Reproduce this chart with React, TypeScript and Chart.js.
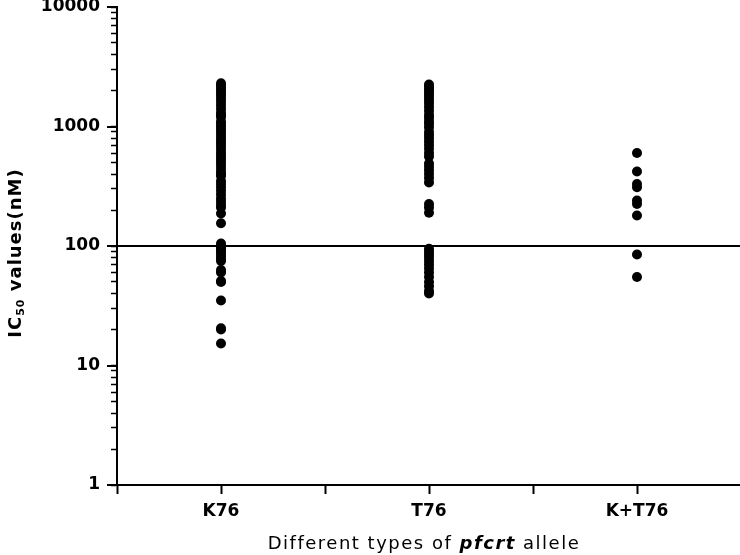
import React, { useEffect, useRef } from "react";
import { Chart, registerables } from "chart.js";

Chart.register(...registerables);

const categories = ["K76", "T76", "K+T76"];
const yTickLabels = ["1", "10", "100", "1000", "10000"];
const referenceLevel = 100;

const k76Values = [
  2300, 2200, 2100, 2000, 1900, 1800, 1700, 1600, 1500, 1400, 1300, 1250, 1200,
  1100, 1050, 1000, 950, 900, 850, 800, 760, 720, 680, 640, 600, 570, 540, 510,
  480, 450, 420, 400, 385, 350, 330, 310, 290, 270, 250, 235, 220, 210, 187, 155,
  105, 100, 97, 93, 90, 86, 82, 78, 75, 63, 60, 51, 50, 35, 20.5, 20, 15.3,
];
const t76Values = [
  2250, 2150, 2050, 1950, 1850, 1750, 1650, 1550, 1450, 1350, 1250, 1180, 1100,
  1050, 980, 900, 850, 800, 750, 700, 650, 600, 560, 490, 460, 430, 400, 370,
  340, 225, 210, 190, 95, 90, 85, 80, 75, 70, 65, 60, 55, 50, 46, 42, 40,
];
const ktValues = [600, 420, 330, 310, 240, 225, 180, 85, 55];

const seriesValues = [k76Values, t76Values, ktValues];

const isPow10 = (v: number) => {
  const l = Math.log10(v);
  return Math.abs(l - Math.round(l)) < 1e-9;
};

const textPlugin = {
  id: "customText",
  afterDraw(chart: any) {
    const ctx = chart.ctx;
    const area = chart.chartArea;
    const ys = chart.scales.y;
    ctx.save();
    ctx.strokeStyle = "#000";
    ctx.lineWidth = 2;
    ys.ticks.forEach((t: any) => {
      if (isPow10(t.value)) {
        const py = Math.round(ys.getPixelForValue(t.value));
        ctx.beginPath();
        ctx.moveTo(area.left - 10, py);
        ctx.lineTo(area.left, py);
        ctx.stroke();
      }
    });

    // X title with mixed styling
    ctx.fillStyle = "#000";
    ctx.textBaseline = "alphabetic";
    ctx.textAlign = "left";
    (ctx as any).letterSpacing = "1.5px";
    const parts = [
      { t: "Different types of ", f: "18px 'DejaVu Sans'" },
      { t: "pfcrt", f: "italic bold 18px 'DejaVu Sans'" },
      { t: " allele", f: "18px 'DejaVu Sans'" },
    ];
    let total = 0;
    parts.forEach((p) => {
      ctx.font = p.f;
      total += ctx.measureText(p.t).width;
    });
    let x = 424 - total / 2;
    parts.forEach((p) => {
      ctx.font = p.f;
      ctx.fillText(p.t, x, 549);
      x += ctx.measureText(p.t).width;
    });

    // Y title rotated with subscript
    (ctx as any).letterSpacing = "1px";
    const yParts = [
      { t: "IC", f: "bold 18px 'DejaVu Sans'", dy: 0 },
      { t: "50", f: "bold 11px 'DejaVu Sans'", dy: 3 },
      { t: " values(nM)", f: "bold 18px 'DejaVu Sans'", dy: 0 },
    ];
    let ytotal = 0;
    yParts.forEach((p) => {
      ctx.font = p.f;
      ytotal += ctx.measureText(p.t).width;
    });
    ctx.translate(21, (area.top + area.bottom) / 2 + 7);
    ctx.rotate(-Math.PI / 2);
    let px = -ytotal / 2;
    yParts.forEach((p) => {
      ctx.font = p.f;
      ctx.fillText(p.t, px, p.dy);
      px += ctx.measureText(p.t).width;
    });
    ctx.restore();
  },
};

export default function App() {
  const ref = useRef<HTMLCanvasElement | null>(null);

  useEffect(() => {
    if (!ref.current) return;
    const datasets: any[] = seriesValues.map((vals, i) => ({
      type: "scatter",
      label: categories[i],
      data: vals.map((v) => ({ x: i + 0.5, y: v })),
      backgroundColor: "#000",
      borderColor: "#000",
      borderWidth: 0,
      pointRadius: 5,
      pointHoverRadius: 5,
    }));
    datasets.push({
      type: "line",
      label: "ref",
      data: [
        { x: 0, y: referenceLevel },
        { x: categories.length, y: referenceLevel },
      ],
      borderColor: "#000",
      borderWidth: 2,
      pointRadius: 0,
      fill: false,
    });

    const chart = new Chart(ref.current, {
      type: "scatter",
      data: { datasets },
      plugins: [textPlugin],
      options: {
        animation: false,
        responsive: false,
        devicePixelRatio: 1,
        layout: { padding: { top: 7, right: 0, left: 0, bottom: 0 } },
        plugins: { legend: { display: false }, tooltip: { enabled: false } },
        scales: {
          x: {
            type: "linear",
            min: 0,
            max: categories.length,
            afterBuildTicks: (scale: any) => {
              const t = [];
              for (let i = 0; i <= categories.length * 2; i++) t.push({ value: i / 2 });
              scale.ticks = t;
            },
            afterFit: (scale: any) => {
              scale.height = 70;
              scale.paddingLeft = 0;
              scale.paddingRight = 0;
            },
            ticks: {
              autoSkip: false,
              maxRotation: 0,
              padding: 7,
              color: "#000",
              font: { family: "'DejaVu Sans'", size: 17, weight: "bold" },
              callback: (v: any) => {
                const idx = Math.round(Number(v) * 2);
                if (idx % 2 === 1) return categories[(idx - 1) / 2];
                return "";
              },
            },
            grid: {
              drawOnChartArea: false,
              tickLength: 9,
              tickColor: "#000",
              tickWidth: 2,
            },
            border: { display: true, color: "#000", width: 2 },
          },
          y: {
            type: "logarithmic",
            min: 1,
            max: 10000,
            afterBuildTicks: (scale: any) => {
              const t = [];
              for (let d = 0; d < yTickLabels.length - 1; d++) {
                for (let m = 1; m <= 9; m++) t.push({ value: m * Math.pow(10, d) });
              }
              t.push({ value: Number(yTickLabels[yTickLabels.length - 1]) });
              scale.ticks = t;
            },
            afterFit: (scale: any) => {
              scale.width = 117;
              scale.paddingTop = 0;
              scale.paddingBottom = 0;
            },
            ticks: {
              autoSkip: false,
              padding: 11,
              color: "#000",
              font: { family: "'DejaVu Sans'", size: 17, weight: "bold" },
              callback: (v: any) => {
                const s = String(Number(v));
                return yTickLabels.includes(s) ? s : "";
              },
            },
            grid: {
              drawOnChartArea: false,
              tickLength: 6,
              tickColor: "#000",
              tickWidth: 1.5,
            },
            border: { display: true, color: "#000", width: 2 },
          },
        },
      } as any,
    });
    return () => chart.destroy();
  }, []);

  return (
    <div
      style={{
        position: "fixed",
        left: 0,
        top: 0,
        width: 740,
        height: 555,
        overflow: "hidden",
        background: "#fff",
      }}
    >
      <canvas ref={ref} width={746} height={555} style={{ display: "block" }} />
    </div>
  );
}
